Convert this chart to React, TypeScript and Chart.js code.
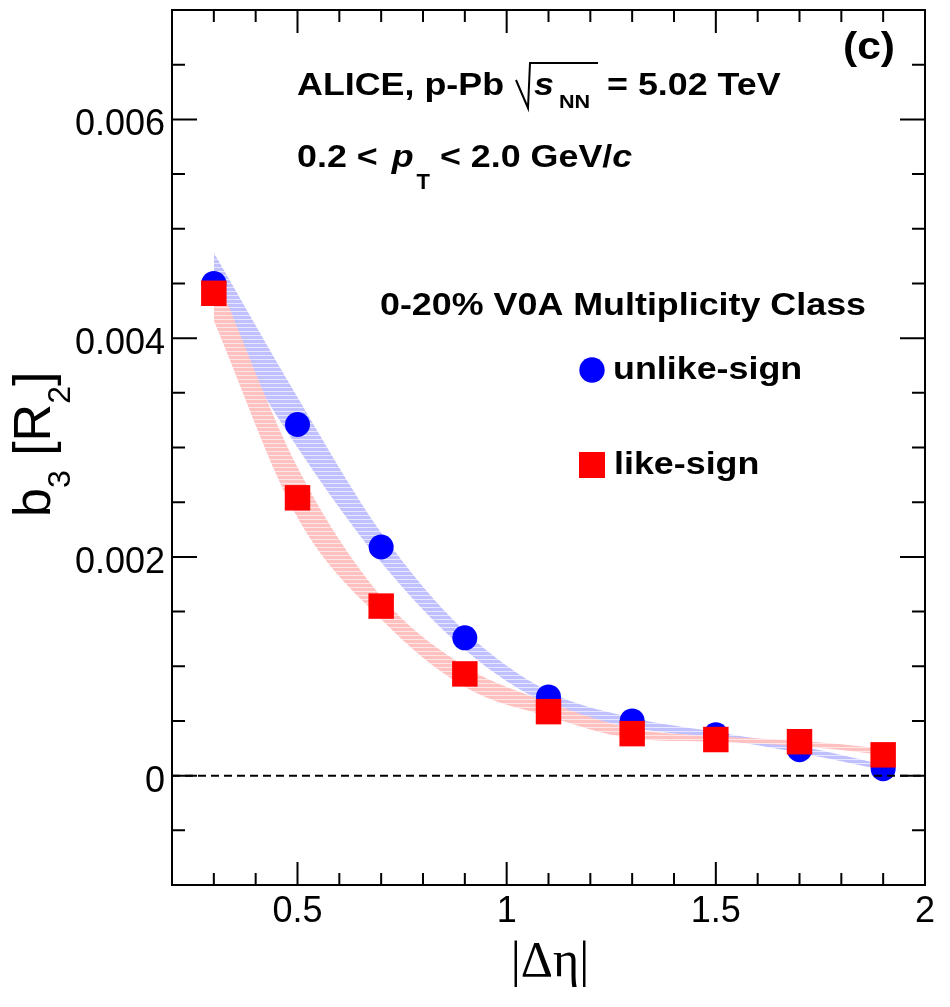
import { useEffect, useRef } from 'react'
import Chart from 'chart.js/auto'

// |delta eta| bin centres
const deltaEta = [0.3, 0.5, 0.7, 0.9, 1.1, 1.3, 1.5, 1.7, 1.9]

// b3 [R2], 0-20% V0A
const unlikeSign = [0.0045, 0.00321, 0.00209, 0.00126, 0.00072, 0.0005, 0.000374, 0.000237, 0.000064]
const likeSign = [0.00441, 0.00254, 0.00155, 0.00093, 0.000585, 0.000384, 0.00033, 0.00031, 0.00019]

// systematic bands
const unlikeSysHi = [0.00478, 0.00346, 0.00222, 0.00132, 0.00077, 0.00053, 0.0004, 0.00027, 0.0001]
const unlikeSysLo = [0.00422, 0.003, 0.00195, 0.00115, 0.00065, 0.00044, 0.00034, 0.00021, 0.00005]
const likeSysHi = [0.00462, 0.00282, 0.00164, 0.001, 0.00067, 0.00043, 0.00036, 0.00032, 0.00025]
const likeSysLo = [0.00416, 0.00236, 0.00143, 0.00081, 0.00054, 0.00034, 0.00031, 0.00027, 0.00019]

const zeroLineX = [0.2, 2.0]

const xMajorTicks = [0.5, 1, 1.5, 2]
const xTickLabels = ['0.5', '1', '1.5', '2']
const xMinorTicks = [0.3, 0.4, 0.6, 0.7, 0.8, 0.9, 1.1, 1.2, 1.3, 1.4, 1.6, 1.7, 1.8, 1.9]
const yMajorTicks = [0, 0.002, 0.004, 0.006]
const yTickLabels = ['0', '0.002', '0.004', '0.006']
const yMinorTicks = [-0.0005, 0.0005, 0.001, 0.0015, 0.0025, 0.003, 0.0035, 0.0045, 0.005, 0.0055, 0.0065]

const SANS = '"Liberation Sans", Arial, Helvetica, sans-serif'
const SERIF = '"Liberation Serif", "Times New Roman", serif'
const STRETCH = 1.12

function hatch(base: string, light: string) {
  const c = document.createElement('canvas')
  c.width = 4
  c.height = 4
  const g = c.getContext('2d')!
  g.fillStyle = base
  g.fillRect(0, 0, 4, 4)
  g.fillStyle = light
  g.fillRect(0, 3, 4, 1)
  return g.createPattern(c, 'repeat')!
}

// draws stretched text, returns the advance
function txt(ctx: CanvasRenderingContext2D, s: string, x: number, y: number, font: string, sx = STRETCH) {
  ctx.save()
  ctx.font = font
  ctx.translate(x, y)
  ctx.scale(sx, 1)
  ctx.fillText(s, 0, 0)
  const w = ctx.measureText(s).width * sx
  ctx.restore()
  return w
}

const rootFrame = {
  id: 'rootFrame',
  afterDraw(chart: any) {
    const { ctx, chartArea: a, scales } = chart
    const xs = scales.x
    const ys = scales.y
    ctx.save()
    ctx.strokeStyle = '#000'
    ctx.fillStyle = '#000'
    ctx.lineWidth = 2
    ctx.strokeRect(a.left, a.top, a.right - a.left, a.bottom - a.top)

    ctx.beginPath()
    const xt = (v: number, len: number) => {
      const px = xs.getPixelForValue(v)
      ctx.moveTo(px, a.bottom)
      ctx.lineTo(px, a.bottom - len)
      ctx.moveTo(px, a.top)
      ctx.lineTo(px, a.top + len)
    }
    const yt = (v: number, len: number) => {
      const py = ys.getPixelForValue(v)
      ctx.moveTo(a.left, py)
      ctx.lineTo(a.left + len, py)
      ctx.moveTo(a.right, py)
      ctx.lineTo(a.right - len, py)
    }
    xMajorTicks.forEach((v) => xt(v, 23))
    xMinorTicks.forEach((v) => xt(v, 12))
    yMajorTicks.forEach((v) => yt(v, 25))
    yMinorTicks.forEach((v) => yt(v, 13))
    ctx.stroke()

    // tick labels
    ctx.font = `36px ${SANS}`
    ctx.textAlign = 'center'
    xMajorTicks.forEach((v, i) => ctx.fillText(xTickLabels[i], xs.getPixelForValue(v), 922))
    ctx.textAlign = 'right'
    yMajorTicks.forEach((v, i) => ctx.fillText(yTickLabels[i], a.left - 7, ys.getPixelForValue(v) + 16))

    // x title
    ctx.textAlign = 'center'
    ctx.font = `50px ${SERIF}`
    ctx.fillText('|\u0394\u03b7|', 550, 976)

    // y title, rotated
    ctx.save()
    ctx.translate(50, 517)
    ctx.rotate(-Math.PI / 2)
    ctx.textAlign = 'left'
    let x = 0
    x += txt(ctx, 'b', x, 0, `52px ${SANS}`, 1)
    x += txt(ctx, '3', x, 20, `32px ${SANS}`, 1)
    x += txt(ctx, ' [R', x, 0, `52px ${SANS}`, 1)
    x += txt(ctx, '2', x, 20, `32px ${SANS}`, 1)
    txt(ctx, ']', x, 0, `52px ${SANS}`, 1)
    ctx.restore()

    // annotations
    ctx.textAlign = 'left'
    const B = `bold 32px ${SANS}`
    const BI = `italic bold 32px ${SANS}`
    txt(ctx, '(c)', 843, 59, `bold 38px ${SANS}`)

    txt(ctx, 'ALICE, p-Pb', 297, 95, B)
    ctx.beginPath()
    ctx.lineWidth = 2
    ctx.moveTo(516, 80)
    ctx.lineTo(528, 108)
    ctx.lineTo(530, 63)
    ctx.lineTo(598, 63)
    ctx.stroke()
    txt(ctx, 's', 534, 95, BI)
    txt(ctx, 'NN', 559, 108, `bold 18px ${SANS}`, 1.2)
    txt(ctx, '= 5.02 TeV', 607, 95, B)

    x = 297
    x += txt(ctx, '0.2 < ', x, 167, B)
    x += 4
    x += txt(ctx, 'p', x, 167, BI)
    x += 3
    x += txt(ctx, 'T', x, 189, `bold 22px ${SANS}`, 1)
    x += txt(ctx, ' < 2.0 GeV/', x, 167, B)
    txt(ctx, 'c', x, 167, BI)

    txt(ctx, '0-20% V0A Multiplicity Class', 380, 315, B)

    // legend
    ctx.fillStyle = '#0000ff'
    ctx.beginPath()
    ctx.arc(592, 370, 12.7, 0, Math.PI * 2)
    ctx.fill()
    ctx.fillStyle = '#ff0000'
    ctx.fillRect(579, 452, 26, 26)
    ctx.fillStyle = '#000'
    txt(ctx, 'unlike-sign', 613, 379, B)
    txt(ctx, 'like-sign', 614, 474, B)
    ctx.restore()
  },
}

const toXY = (ys: number[]) => deltaEta.map((x, i) => ({ x, y: ys[i] }))

export default function App() {
  const ref = useRef<HTMLCanvasElement>(null)

  useEffect(() => {
    document.body.style.margin = '0'
    if (!ref.current) return

    const blueHatch = hatch('rgb(192,192,255)', 'rgb(230,230,255)')
    const redHatch = hatch('rgb(255,192,192)', 'rgb(255,230,230)')
    const band = {
      showLine: true,
      pointRadius: 0,
      borderColor: 'rgba(0,0,0,0)',
      borderWidth: 0,
      cubicInterpolationMode: 'monotone' as const,
    }

    const chart = new Chart(ref.current, {
      type: 'scatter',
      data: {
        datasets: [
          {
            label: 'zero',
            data: zeroLineX.map((x) => ({ x, y: 0 })),
            showLine: true,
            borderColor: '#000',
            borderWidth: 2,
            borderDash: [8, 5],
            pointRadius: 0,
          },
          {
            label: 'like-sign',
            data: toXY(likeSign),
            pointStyle: 'rect',
            pointRadius: 18,
            backgroundColor: '#ff0000',
            borderWidth: 0,
          },
          {
            label: 'unlike-sign',
            data: toXY(unlikeSign),
            pointStyle: 'circle',
            pointRadius: 12.5,
            backgroundColor: '#0000ff',
            borderWidth: 0,
          },
          { label: 'like sys hi', data: toXY(likeSysHi), fill: '+1', backgroundColor: redHatch, ...band },
          { label: 'like sys lo', data: toXY(likeSysLo), fill: false, ...band },
          { label: 'unlike sys hi', data: toXY(unlikeSysHi), fill: '+1', backgroundColor: blueHatch, ...band },
          { label: 'unlike sys lo', data: toXY(unlikeSysLo), fill: false, ...band },
        ],
      },
      options: {
        animation: false,
        responsive: true,
        maintainAspectRatio: false,
        events: [],
        layout: { autoPadding: false, padding: { left: 172, top: 10, right: 25, bottom: 122 } },
        plugins: {
          legend: { display: false },
          tooltip: { enabled: false },
        },
        scales: {
          x: { type: 'linear', min: 0.2, max: 2.0, display: false },
          y: { type: 'linear', min: -0.001, max: 0.007, display: false },
        },
      },
      plugins: [rootFrame],
    })

    return () => chart.destroy()
  }, [])

  return (
    <div style={{ width: 950, height: 1007, position: 'relative', background: '#fff' }}>
      <canvas ref={ref} />
    </div>
  )
}
